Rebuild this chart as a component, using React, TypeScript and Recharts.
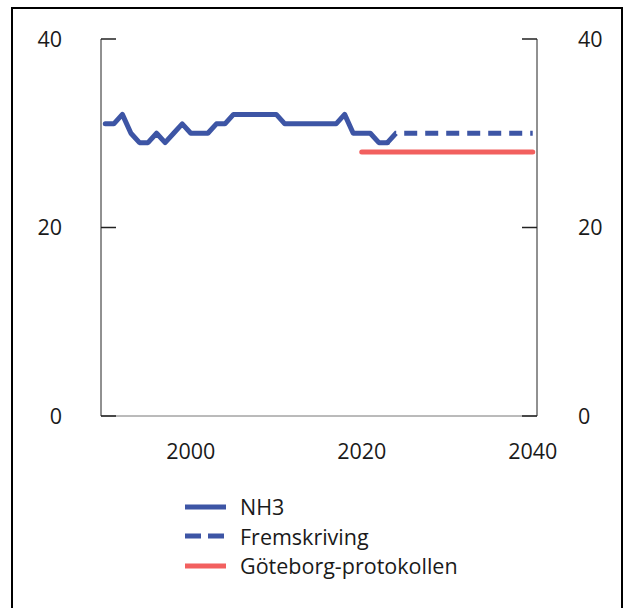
import React from "react";
import { LineChart, Line, XAxis, YAxis } from "recharts";

const nh3Years = [1990, 1991, 1992, 1993, 1994, 1995, 1996, 1997, 1998, 1999, 2000, 2001, 2002, 2003, 2004, 2005, 2006, 2007, 2008, 2009, 2010, 2011, 2012, 2013, 2014, 2015, 2016, 2017, 2018, 2019, 2020, 2021, 2022, 2023];
const nh3Values = [31, 31, 32, 30, 29, 29, 30, 29, 30, 31, 30, 30, 30, 31, 31, 32, 32, 32, 32, 32, 32, 31, 31, 31, 31, 31, 31, 31, 32, 30, 30, 30, 29, 29];
const fremYears = [2023, 2024, 2040];
const fremValues = [29, 30, 30];
const gotYears = [2020, 2040];
const gotValues = [28, 28];
const yTicks = [0, 20, 40];
const xTicks = [2000, 2020, 2040];
const legendNames = ["NH3", "Fremskriving", "Göteborg-protokollen"];

const BLUE = "#3d55a5";
const RED = "#f2605f";
const FONT = "'Open Sans', sans-serif";
const TEXT = "#1a1a1a";
const FS = 21.5;

const nh3Data = nh3Years.map((x, i) => ({ x, v: nh3Values[i] }));
const fremData = fremYears.map((x, i) => ({ x, v: fremValues[i] }));
const gotData = gotYears.map((x, i) => ({ x, v: gotValues[i] }));

const LeftTick = (props: any) => {
  const { x, y, payload } = props;
  return (
    <g>
      <line x1={x} x2={x + 15} y1={y} y2={y} stroke="#222" strokeWidth={1.5} />
      <text x={x - 39} y={y} dy="0.36em" textAnchor="end" fontSize={FS} fontFamily={FONT} fill={TEXT}>
        {payload.value}
      </text>
    </g>
  );
};

const RightTick = (props: any) => {
  const { x, y, payload } = props;
  return (
    <g>
      <line x1={x} x2={x - 15} y1={y} y2={y} stroke="#222" strokeWidth={1.5} />
      <text x={x + 41} y={y} dy="0.36em" textAnchor="start" fontSize={FS} fontFamily={FONT} fill={TEXT}>
        {payload.value}
      </text>
    </g>
  );
};

const LegendBlock = () => {
  const styles = [
    { color: BLUE, dash: undefined as string | undefined },
    { color: BLUE, dash: "16 7" },
    { color: RED, dash: undefined as string | undefined },
  ];
  return (
    <div style={{ position: "absolute", left: 185, top: 492, fontFamily: FONT }}>
      {legendNames.map((n, i) => (
        <div key={n} style={{ display: "flex", alignItems: "center", height: 29.5 }}>
          <svg width={42} height={10} style={{ display: "block" }}>
            <line x1={0} x2={41} y1={5} y2={5} stroke={styles[i].color} strokeWidth={5} strokeDasharray={styles[i].dash} />
          </svg>
          <span style={{ marginLeft: 13, fontSize: FS, color: TEXT, lineHeight: "29px", whiteSpace: "nowrap" }}>{n}</span>
        </div>
      ))}
    </div>
  );
};

export default function App() {
  return (
    <div>
      <div
        style={{
          position: "absolute",
          left: 11,
          top: 7,
          width: 612,
          height: 620,
          border: "2px solid #000",
          boxSizing: "border-box",
        }}
      />
      <div style={{ position: "absolute", left: 0, top: 0 }}>
        <LineChart width={627} height={480} margin={{ top: 39, right: 30, bottom: 24, left: 41 }}>
          <XAxis
            dataKey="x"
            type="number"
            domain={[1989.5, 2040.5]}
            ticks={xTicks}
            tickLine={false}
            tickSize={0}
            tickMargin={28}
            height={40}
            stroke="#777"
            allowDataOverflow
            tick={{ fontSize: FS, fontFamily: FONT, fill: TEXT }}
          />
          <YAxis
            yAxisId="l"
            orientation="left"
            domain={[0, 40]}
            ticks={yTicks}
            width={60}
            tickSize={0}
            tickMargin={0}
            tickLine={false}
            stroke="#222"
            tick={<LeftTick />}
          />
          <YAxis
            yAxisId="r"
            orientation="right"
            domain={[0, 40]}
            ticks={yTicks}
            width={60}
            tickSize={0}
            tickMargin={0}
            tickLine={false}
            stroke="#222"
            tick={<RightTick />}
          />
          <Line yAxisId="l" data={nh3Data} dataKey="v" name="NH3" stroke={BLUE} strokeWidth={5} dot={false} strokeLinejoin="round" strokeLinecap="round" isAnimationActive={false} />
          <Line yAxisId="l" data={fremData} dataKey="v" name="Fremskriving" stroke={BLUE} strokeWidth={5} strokeDasharray="13 8" dot={false} isAnimationActive={false} />
          <Line yAxisId="r" data={gotData} dataKey="v" name="Göteborg-protokollen" stroke={RED} strokeWidth={5} strokeLinecap="round" dot={false} isAnimationActive={false} />
        </LineChart>
      </div>
      <LegendBlock />
    </div>
  );
}
